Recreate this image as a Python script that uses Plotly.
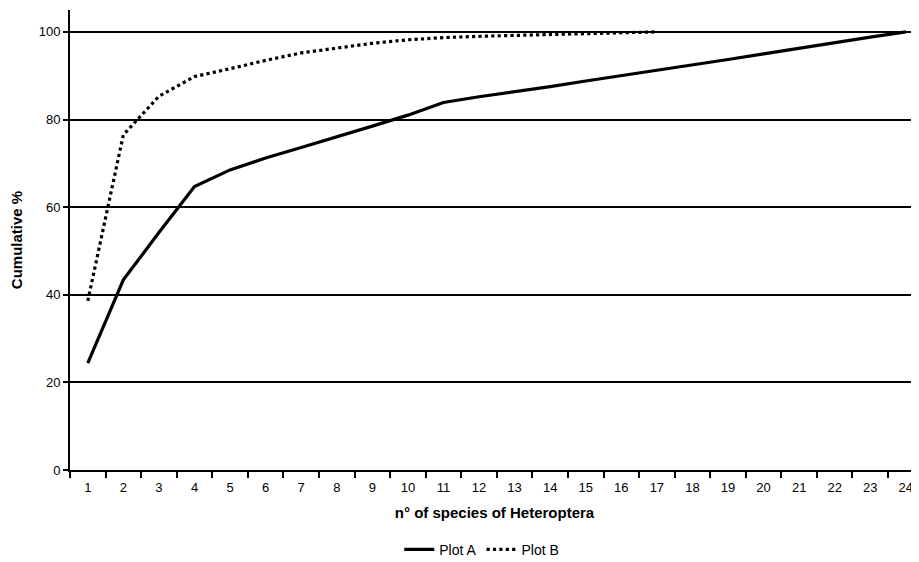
import plotly.graph_objects as go

categories = [str(i) for i in range(1, 25)]
plot_a = [24.4, 43.4, 54.2, 64.7, 68.5, 71.2, 73.6, 76.0, 78.5, 81.0, 83.9, 85.2,
          86.3, 87.5, 88.8, 90.0, 91.2, 92.5, 93.7, 95.0, 96.3, 97.6, 98.8, 100.0]
plot_b = [38.6, 76.5, 85.3, 89.8, 91.6, 93.5, 95.2, 96.3, 97.4, 98.2, 98.7, 99.0,
          99.2, 99.4, 99.6, 99.8, 100.0]
y_ticks = [0, 20, 40, 60, 80, 100]

fig = go.Figure()
fig.add_trace(go.Scatter(x=categories, y=plot_a, mode="lines", name="Plot A",
                         line=dict(color="black", width=3.2)))
fig.add_trace(go.Scatter(x=categories[:len(plot_b)], y=plot_b, mode="lines", name="Plot B",
                         line=dict(color="black", width=3.2, dash="dot")))

font = "Liberation Sans, Arial, sans-serif"
fig.update_layout(
    width=911, height=554,
    margin=dict(l=62, r=0, t=2, b=92, autoexpand=False),
    plot_bgcolor="white", paper_bgcolor="white",
    font=dict(family=font, size=13, color="black"),
    showlegend=True,
    legend=dict(orientation="h", x=0.485, xanchor="center", yref="container",
                y=0.022, yanchor="middle", font=dict(size=14), itemwidth=30),
    xaxis=dict(type="category", categoryorder="array", categoryarray=categories,
               range=[-0.5, 23.37], tickson="boundaries", ticks="outside",
               ticklen=6, tickwidth=1.5, tickcolor="black", ticklabelstandoff=4,
               showline=True, linecolor="black", linewidth=2, showgrid=False,
               automargin=False,
               title=dict(text="<b>n° of species of Heteroptera</b>", font=dict(size=15), standoff=14),
               tickfont=dict(size=13)),
    yaxis=dict(range=[0, 105], tickvals=y_ticks, ticks="outside", ticklen=5,
               tickwidth=1.5, tickcolor="black",
               showline=True, linecolor="black", linewidth=2,
               showgrid=True, gridcolor="black", gridwidth=1.5, zeroline=False,
               automargin=False,
               title=dict(text="<b>Cumulative %</b>", font=dict(size=15), standoff=16),
               tickfont=dict(size=13)),
)

fig.write_html("out.html")
